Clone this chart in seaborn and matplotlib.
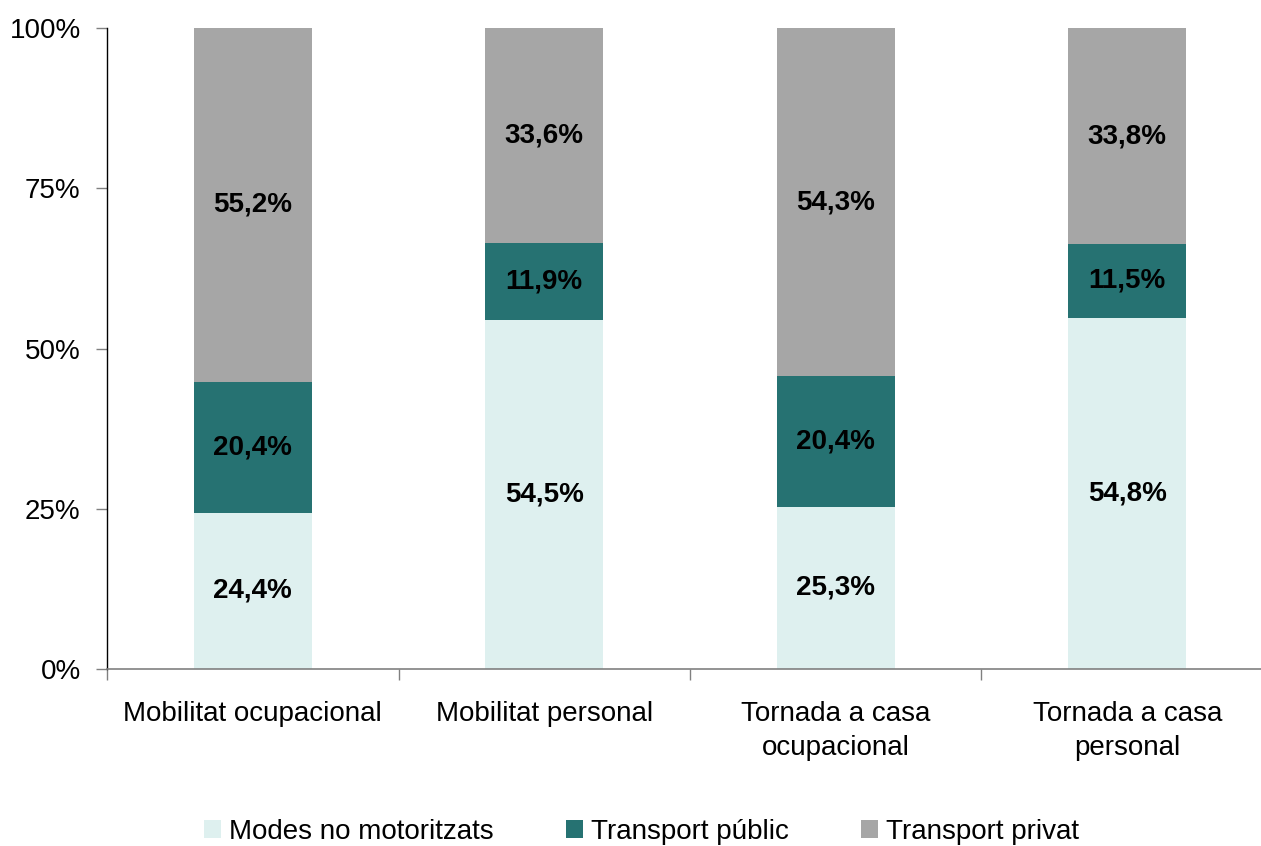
import matplotlib
matplotlib.use("Agg")
import matplotlib.pyplot as plt
from matplotlib.patches import Patch
from matplotlib.ticker import FixedLocator, PercentFormatter
import numpy as np
import pandas as pd
import seaborn as sns

categories = [
    "Mobilitat ocupacional",
    "Mobilitat personal",
    "Tornada a casa\nocupacional",
    "Tornada a casa\npersonal",
]
series = ["Modes no motoritzats", "Transport públic", "Transport privat"]
no_motor = [24.4, 54.5, 25.3, 54.8]
public = [20.4, 11.9, 20.4, 11.5]
private = [55.2, 33.6, 54.3, 33.8]
colors = ["#DEF0EF", "#267272", "#A6A6A6"]

sns.set_theme(style="white")
plt.rcParams["font.family"] = ["Liberation Sans", "DejaVu Sans"]
plt.rcParams["text.color"] = "black"

values = np.array([no_motor, public, private])
tops = values.cumsum(axis=0)
tops[-1] = np.minimum(tops[-1], 100.0)

fig = plt.figure(figsize=(12.61, 8.46), dpi=100)
ax = fig.add_axes([0.0849, 0.2092, 0.9246, 0.7577])

# draw the cumulative totals from top layer down so the lower ones cover them
for i in range(len(series) - 1, -1, -1):
    df = pd.DataFrame({"cat": categories, "top": tops[i]})
    sns.barplot(data=df, x="cat", y="top", color=colors[i], width=0.405,
                saturation=1, errorbar=None, ax=ax, linewidth=0)

for i in range(len(series)):
    bottoms = tops[i] - values[i]
    for j in range(len(categories)):
        ax.text(j, bottoms[j] + values[i][j] / 2, f"{values[i][j]:.1f}%".replace(".", ","),
                ha="center", va="center", fontsize=20, fontweight="bold", color="black")

ax.set_ylim(0, 100)
ax.set_xlim(-0.5, 3.5)
ax.yaxis.set_major_locator(FixedLocator([0, 25, 50, 75, 100]))
ax.yaxis.set_major_formatter(PercentFormatter(decimals=0))
ax.set_xlabel("")
ax.set_ylabel("")
ax.xaxis.set_minor_locator(FixedLocator([-0.5, 0.5, 1.5, 2.5, 3.5]))
ax.tick_params(axis="x", which="major", length=0, labelsize=20, pad=23, colors="black")
ax.tick_params(axis="x", which="minor", length=8, width=1, color="#808080", direction="out", bottom=True)
ax.tick_params(axis="y", which="major", length=8, width=1, color="#808080", direction="out",
               left=True, labelsize=20, pad=11, labelcolor="black")
for lab in ax.get_xticklabels():
    lab.set_linespacing(1.38)

for side in ["top", "right"]:
    ax.spines[side].set_visible(False)
ax.spines["left"].set_color("black")
ax.spines["left"].set_linewidth(1)
ax.spines["bottom"].set_color("#808080")
ax.spines["bottom"].set_linewidth(1.2)

handles = [Patch(facecolor=c, edgecolor="none") for c in colors]
leg = fig.legend(handles, series, loc="center", bbox_to_anchor=(0.509, 0.017), ncol=3,
                 frameon=False, fontsize=20, handlelength=0.6, handleheight=0.6,
                 handletextpad=0.3, columnspacing=2.6)
for t in leg.get_texts():
    t.set_color("black")

fig.savefig("out.png", dpi=100)
plt.close(fig)
